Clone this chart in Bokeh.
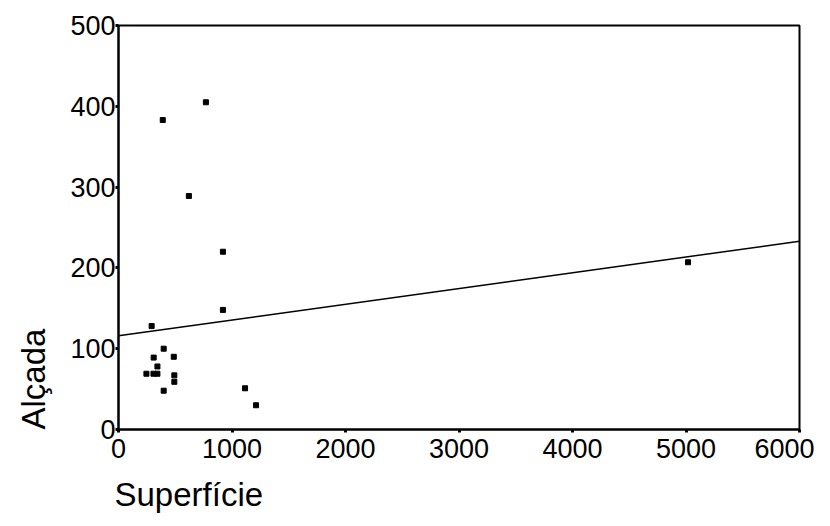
from bokeh.plotting import figure
from bokeh.models import Title, Range1d, FixedTicker
from bokeh.embed import file_html
from bokeh.resources import INLINE

# data
superficie = [770, 390, 620, 920, 920, 292, 398, 310, 487, 246, 308, 343, 343, 492, 492, 398, 1115, 1212, 5018]
alcada = [405, 383, 289, 220, 148, 128, 100, 89, 90, 69, 69, 69, 78, 67, 59, 48, 51, 30, 207]
fit_x = [0, 6000]
fit_y = [116, 233]
x_ticks = [0, 1000, 2000, 3000, 4000, 5000, 6000]
y_ticks = [0, 100, 200, 300, 400, 500]
x_title = "Superfície"
y_title = "Alçada"

FONT = "Liberation Sans"

p = figure(width=814, height=525, output_backend="svg", toolbar_location=None,
           x_range=Range1d(0, 6000), y_range=Range1d(0, 500),
           min_border_left=117, min_border_right=15, min_border_top=25, min_border_bottom=95)
p.grid.visible = False
p.background_fill_color = "white"
p.border_fill_color = "white"
p.outline_line_color = "black"
p.outline_line_width = 2

for ax in (p.xaxis[0], p.yaxis[0]):
    ax.axis_line_width = 2
    ax.axis_line_color = "black"
    ax.major_tick_line_width = 3
    ax.major_tick_line_color = "black"
    ax.major_tick_in = 0
    ax.major_tick_out = 3
    ax.minor_tick_line_color = None
    ax.major_label_text_font = FONT
    ax.major_label_text_font_size = "27px"
    ax.major_label_text_color = "black"

p.xaxis.ticker = FixedTicker(ticks=x_ticks)
p.yaxis.ticker = FixedTicker(ticks=y_ticks)
p.xaxis.major_label_standoff = 6
p.yaxis.major_label_standoff = 0

p.line(fit_x, fit_y, line_color="black", line_width=1.5)
p.scatter(superficie, alcada, marker="square", size=5, color="black")

p.add_layout(Title(text=x_title, align="left", offset=-4, standoff=26,
                   text_font=FONT, text_font_size="33px", text_font_style="normal",
                   text_color="black"), "below")
p.add_layout(Title(text=y_title, align="left", offset=0, standoff=28,
                   vertical_align="top",
                   text_font=FONT, text_font_size="33px", text_font_style="normal",
                   text_color="black"), "left")

open("out.html", "w").write(file_html(p, INLINE))
